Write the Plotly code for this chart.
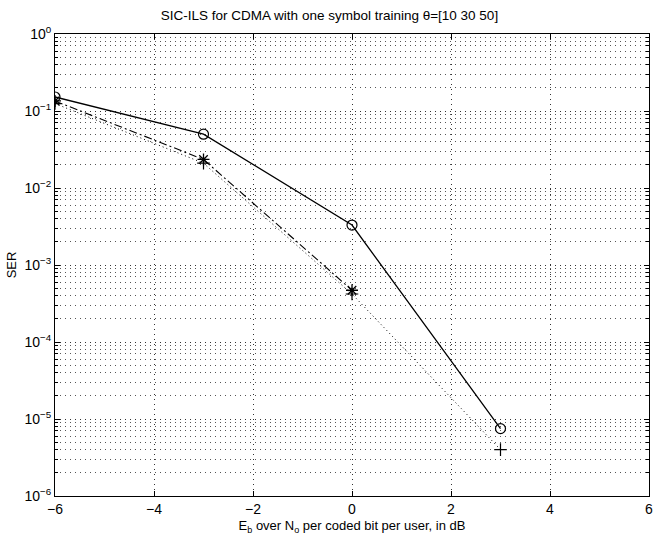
import plotly.graph_objects as go

ebno = [-6, -3, 0, 3]
ser_solid = [0.152, 0.050, 3.3e-3, 7.5e-6]
ebno_dashdot = [-6, -3, 0]
ser_dashdot = [0.135, 0.0235, 4.7e-4]
ser_dotted = [0.125, 0.021, 4.2e-4, 4.0e-6]

x_ticks = [-6, -4, -2, 0, 2, 4, 6]
y_major = [1e-6, 1e-5, 1e-4, 1e-3, 1e-2, 1e-1, 1]
y_labels = ["10<sup>−6</sup>", "10<sup>−5</sup>", "10<sup>−4</sup>", "10<sup>−3</sup>",
            "10<sup>−2</sup>", "10<sup>−1</sup>", "10<sup>0</sup>"]
y_minor = [m * d for d in [1e-6, 1e-5, 1e-4, 1e-3, 1e-2, 1e-1] for m in range(2, 10)]

font = "Liberation Sans, Arial, Helvetica, sans-serif"

fig = go.Figure()
fig.add_trace(go.Scatter(
    x=ebno, y=ser_solid, mode="lines+markers",
    line=dict(color="black", width=1.3),
    marker=dict(symbol="circle-open", size=10, color="black", line=dict(width=1.2)),
    showlegend=False))
fig.add_trace(go.Scatter(
    x=ebno_dashdot, y=ser_dashdot, mode="lines+markers",
    line=dict(color="black", width=1.1, dash="8px,3px,2px,3px"),
    marker=dict(symbol="asterisk-open", size=10, color="black", line=dict(width=1.3)),
    showlegend=False))
fig.add_trace(go.Scatter(
    x=ebno, y=ser_dotted, mode="lines+markers",
    line=dict(color="black", width=1.0, dash="1px,3px"),
    marker=dict(symbol="cross-thin-open", size=9, color="black", line=dict(width=1.2)),
    showlegend=False))

fig.update_layout(
    width=659, height=540,
    margin=dict(l=55, r=6, t=34, b=44),
    paper_bgcolor="white", plot_bgcolor="white",
    font=dict(family=font, size=14, color="black"),
    title=dict(text="SIC-ILS for CDMA with one symbol training θ=[10 30 50]",
               x=0.5, xanchor="center", y=0.972, yanchor="middle",
               font=dict(size=13.5, family=font)),
)
fig.update_xaxes(
    range=[-6, 6], tickmode="array", tickvals=x_ticks,
    ticktext=[str(v).replace("-", "−") for v in x_ticks],
    showline=True, linecolor="black", linewidth=1, mirror="ticks",
    ticks="inside", ticklen=5, tickcolor="black",
    showgrid=True, gridcolor="#333", gridwidth=1, griddash="1px,4px",
    zeroline=False,
    tickfont=dict(size=14),
    title=dict(text="E<sub>b</sub> over N<sub>o</sub> per coded bit per user, in dB",
               font=dict(size=13), standoff=5),
)
fig.update_yaxes(
    type="log", range=[-6, 0], tickmode="array", tickvals=y_major, ticktext=y_labels,
    showline=True, linecolor="black", linewidth=1, mirror="ticks",
    ticks="inside", ticklen=5, tickcolor="black",
    showgrid=True, gridcolor="#333", gridwidth=1, griddash="1px,4px",
    zeroline=False,
    tickfont=dict(size=14),
    minor=dict(tickmode="array", tickvals=y_minor, ticks="inside", ticklen=3,
               tickcolor="black", showgrid=True, gridcolor="#555", gridwidth=1,
               griddash="1px,4px"),
    title=dict(text="SER", font=dict(size=13), standoff=4),
)

fig.write_html("out.html")
